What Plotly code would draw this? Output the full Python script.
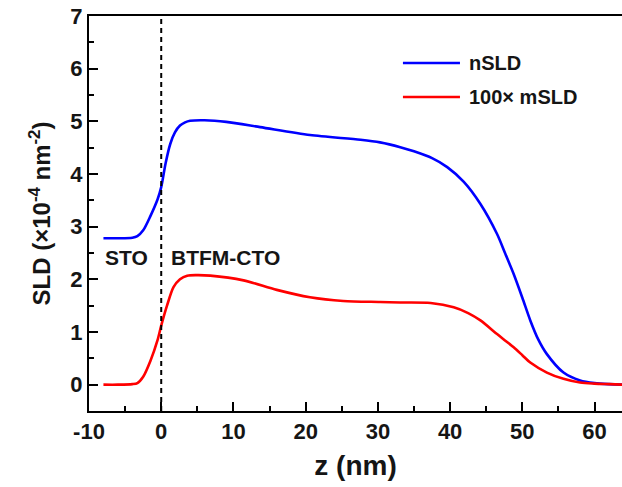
import plotly.graph_objects as go

z_n = [-8, -6, -4, -3.3, -2.5, -1.5, -0.5, 0, 0.6, 1.25, 1.9, 2.6, 3.3, 4, 6, 9, 13.7, 20.6, 27.6, 30.3, 33.1, 35, 37.5, 39.6, 41.9, 44.2, 46.5, 47.6, 48.8, 50, 51.1, 52.2, 53.4, 55.7, 58, 60, 62, 64]
nsld = [2.78, 2.78, 2.79, 2.82, 2.93, 3.2, 3.52, 3.75, 4.2, 4.57, 4.79, 4.92, 4.98, 5.01, 5.02, 4.99, 4.89, 4.74, 4.65, 4.6, 4.51, 4.43, 4.3, 4.13, 3.85, 3.43, 2.86, 2.5, 2.1, 1.65, 1.22, 0.86, 0.58, 0.23, 0.08, 0.03, 0.01, 0.0]

z_m = [-8, -6, -4, -3.3, -2.5, -1.5, -0.5, 0, 0.8, 1.7, 2.6, 3.6, 5, 6.8, 11.4, 16, 20.6, 25.2, 30.3, 33.1, 37.3, 40.5, 42.5, 44.2, 46.5, 47.6, 48.8, 50, 51.1, 53.4, 55.7, 58, 60, 62, 64]
msld = [0.0, 0.0, 0.01, 0.03, 0.15, 0.45, 0.85, 1.12, 1.5, 1.85, 2.0, 2.07, 2.08, 2.07, 1.98, 1.8, 1.66, 1.59, 1.57, 1.56, 1.55, 1.47, 1.36, 1.22, 0.96, 0.84, 0.71, 0.56, 0.42, 0.23, 0.11, 0.04, 0.02, 0.01, 0.0]

series_names = ["nSLD", "100× mSLD"]
series_colors = ["#0000ff", "#ff0000"]
region_labels = ["STO", "BTFM-CTO"]

x_tickvals = [-10, 0, 10, 20, 30, 40, 50, 60]
x_ticktext = ["-10", "0", "10", "20", "30", "40", "50", "60"]
y_tickvals = [0, 1, 2, 3, 4, 5, 6, 7]

font_family = "Liberation Sans, Arial, sans-serif"
txt_color = "#151515"

fig = go.Figure()
fig.add_trace(go.Scatter(x=z_n, y=nsld, mode="lines", name=series_names[0],
                         line=dict(color=series_colors[0], width=2.6, shape="spline", smoothing=0.8)))
fig.add_trace(go.Scatter(x=z_m, y=msld, mode="lines", name=series_names[1],
                         line=dict(color=series_colors[1], width=2.6, shape="spline", smoothing=0.8)))

fig.add_shape(type="line", x0=0, x1=0, y0=-0.5, y1=7, xref="x", yref="y",
              line=dict(color="black", width=2, dash="5px,4px"))

fig.add_annotation(x=-10, y=2.42, xref="x", yref="y", text=region_labels[0], showarrow=False,
                   xanchor="left", xshift=14, font=dict(size=21, family=font_family, color=txt_color, weight="bold"))
fig.add_annotation(x=1.1, y=2.42, xref="x", yref="y", text=region_labels[1], showarrow=False,
                   xanchor="left", font=dict(size=21, family=font_family, color=txt_color, weight="bold"))

# manual legend (paper coordinates)
leg_rows = [0.881, 0.795]
for name, color, yy in zip(series_names, series_colors, leg_rows):
    fig.add_shape(type="line", xref="paper", yref="paper", x0=0.589, x1=0.696, y0=yy, y1=yy,
                  line=dict(color=color, width=2.6))
    fig.add_annotation(xref="paper", yref="paper", x=0.709, y=yy, text=name, showarrow=False,
                       xanchor="left", yanchor="middle",
                       font=dict(size=20, family=font_family, color=txt_color, weight="bold"))

axis_common = dict(showline=True, linecolor="black", linewidth=2, ticks="inside", ticklen=9,
                   tickwidth=2, tickcolor="black", showgrid=False, zeroline=False,
                   tickfont=dict(size=22, family=font_family, color=txt_color, weight="bold"))

fig.update_xaxes(range=[-10, 63.8], tickvals=x_tickvals, ticktext=x_ticktext, mirror=True,
                 minor=dict(ticks="inside", ticklen=5, tickwidth=2, tickcolor="black", dtick=5, tick0=0),
                 title=dict(text="z (nm)", font=dict(size=28, family=font_family, color=txt_color, weight="bold"), standoff=12),
                 **axis_common)
fig.update_yaxes(range=[-0.5, 7], tickvals=y_tickvals,
                 minor=dict(ticks="inside", ticklen=5, tickwidth=2, tickcolor="black", dtick=0.5, tick0=0),
                 title=dict(text="SLD (×10<sup>-4</sup> nm<sup>-2</sup>)", font=dict(size=24, family=font_family, color=txt_color, weight="bold"), standoff=13),
                 **axis_common)

fig.update_layout(width=622, height=487, margin=dict(l=89, r=0, t=16, b=76),
                  paper_bgcolor="white", plot_bgcolor="white", showlegend=False)

fig.write_html("out.html")
